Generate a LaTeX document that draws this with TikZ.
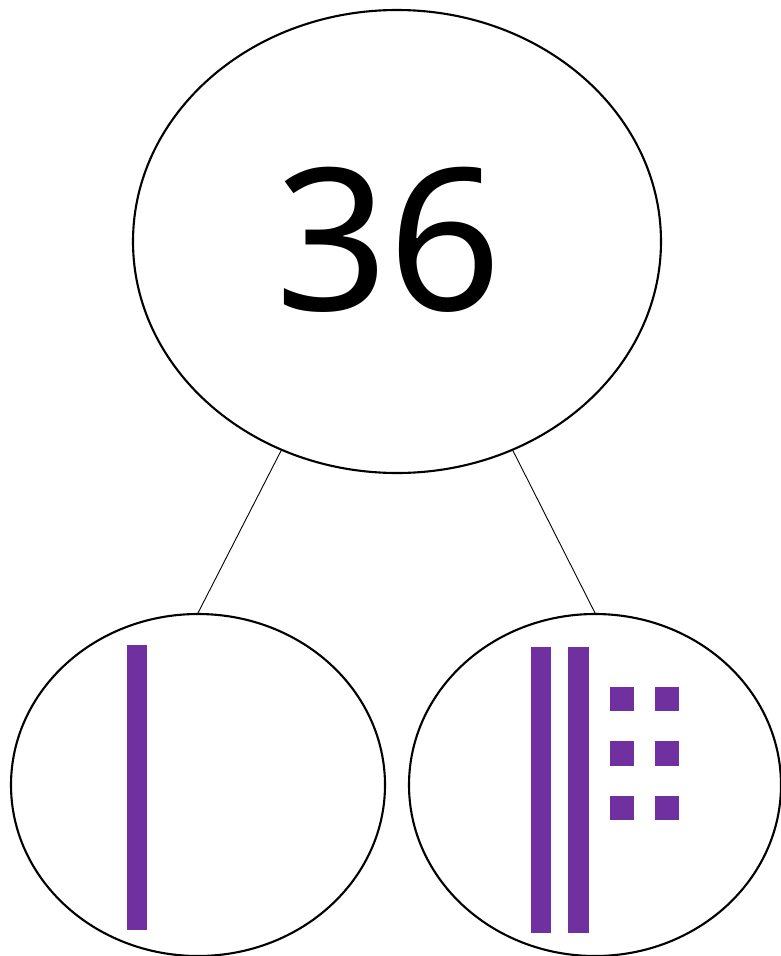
\documentclass[tikz,border=0pt]{standalone}
\usepackage{fontspec}
\setmainfont{Noto Sans}
\usetikzlibrary{shapes.geometric}
\definecolor{rodpurple}{HTML}{7030A0}
\tikzset{
  bubble/.style={draw=black, line width=2.1pt, ellipse, inner sep=0pt, fill=white},
  link/.style={draw=black, line width=0.9pt},
  rod/.style={fill=rodpurple, draw=none},
  unit/.style={fill=rodpurple, draw=none}
}
\begin{document}
\begin{tikzpicture}[x=1pt, y=-1pt]
\useasboundingbox (0,0) rectangle (780,956);
\node[bubble, minimum width=528pt, minimum height=463pt] (top) at (397,241.5) {};
\node[bubble, minimum width=374pt, minimum height=342pt] (left) at (198,785) {};
\node[bubble, minimum width=372pt, minimum height=342pt] (right) at (595,785) {};
\node[inner sep=0pt, font=\fontsize{198}{198}\selectfont] (num) at (388.5,239.5) {36};
\draw[link] (top.241) -- (left.north);
\draw[link] (top.299) -- (right.north);
% left ten-rod
\fill[rod] (126.7,644.5) rectangle (147,930);
% right: two ten-rods
\fill[rod] (530.7,646.7) rectangle (551.3,932.7);
\fill[rod] (568.3,646.7) rectangle (589,932.7);
% six unit cubes
\foreach \yy in {686.7,741,795.7}{
  \fill[unit] (610,\yy) rectangle ++(23.7,24.5);
  \fill[unit] (655,\yy) rectangle ++(23.5,24.5);
}
\end{tikzpicture}
\end{document}
